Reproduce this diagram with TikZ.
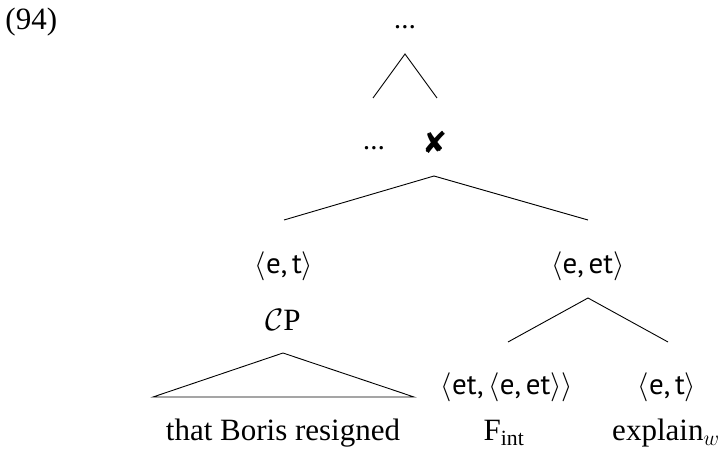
\RequirePackage{fix-cm}
\documentclass[tikz,border=0pt]{standalone}
\usepackage{fontspec}
\setmainfont{Liberation Serif}
\newfontfamily\labsans{PT Sans}
\newfontfamily\symf{DejaVu Sans}
\begin{document}
\begin{tikzpicture}[x=1pt,y=-1pt, line width=0.9pt,
  every node/.style={inner sep=0pt},
  serif/.style={font=\fontsize{31}{36}\selectfont},
  ty/.style={font=\fontsize{29}{34}\selectfont\labsans},
  ]
\useasboundingbox (0,0) rectangle (721,462);
% labels
\node[serif, anchor=west] (ex) at (5,22) {(94)};
\node[ty] (top) at (405,27) {\ldots};
\node[ty] (dots) at (374,148) {\ldots};
\node[font=\fontsize{30}{34}\selectfont\symf] (cross) at (435,142) {✘};
\node[ty] (et1) at (284,266) {$\langle$e,\,t$\rangle$};
\node[ty] (eet) at (588,266) {$\langle$e,\,et$\rangle$};
\node[serif] (cp) at (283,320) {$\mathcal{C}$P};
\node[ty] (etet) at (507,387) {$\langle$et,\,$\langle$e,\,et$\rangle\rangle$};
\node[ty] (et2) at (667,387) {$\langle$e,\,t$\rangle$};
\node[serif, anchor=base] (tbr) at (283,441) {that Boris resigned};
\node[serif, anchor=base] (fint) at (504,441) {F\textsubscript{int}};
\node[serif, anchor=base] (expl) at (666,441) {explain$_w$};
% branch points
\coordinate (a1) at (405,54);
\coordinate (l1) at (373,98);
\coordinate (r1) at (437,98);
\coordinate (a2) at (434,176);
\coordinate (l2) at (284,220);
\coordinate (r2) at (588,220);
\coordinate (a3) at (588,298);
\coordinate (l3) at (508,342);
\coordinate (r3) at (668,342);
\coordinate (a4) at (283,353);
\coordinate (l4) at (153,397);
\coordinate (r4) at (414,397);
\draw (l1) -- (a1) -- (r1);
\draw (l2) -- (a2) -- (r2);
\draw (l3) -- (a3) -- (r3);
\draw (a4) -- (l4) -- (r4) -- cycle;
\end{tikzpicture}
\end{document}
